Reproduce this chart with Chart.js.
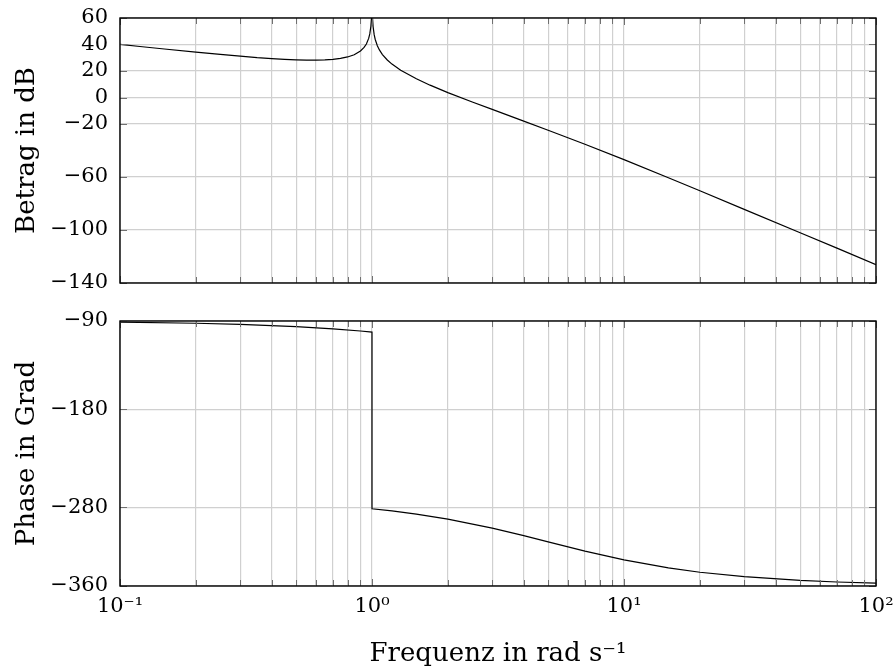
<!DOCTYPE html>
<html>
<head>
<meta charset="utf-8">
<script src="https://cdn.jsdelivr.net/npm/chart.js@4.4.1/dist/chart.umd.min.js"></script>
<style>
  html, body { margin: 0; padding: 0; background: #fff; }
  #page { position: relative; width: 895px; height: 668px; overflow: hidden; }
  .panel { position: absolute; left: 0; width: 895px; }
  #magBox { top: 0; height: 300px; }
  #phaseBox { top: 300px; height: 368px; }
</style>
</head>
<body>
<div id="page">
  <div class="panel" id="magBox"><canvas id="magChart"></canvas></div>
  <div class="panel" id="phaseBox"><canvas id="phaseChart"></canvas></div>
</div>
<script>
// Bode-Diagramm: Betrag und Phase

// Betrag (dB) über Frequenz (rad/s)
const magFreq = [0.1, 0.12, 0.15, 0.2, 0.25, 0.3, 0.35, 0.4, 0.45, 0.5, 0.55, 0.6, 0.65, 0.7, 0.75, 0.8, 0.85, 0.9, 0.93, 0.95, 0.97, 0.98, 0.99, 0.995,
                 1.0, 1.005, 1.01, 1.02, 1.03, 1.05, 1.07, 1.1, 1.15, 1.2, 1.3, 1.5, 1.7, 2, 2.5, 3, 4, 5, 7, 10, 15, 20, 30, 50, 70, 100];
const magDb   = [40.1, 38.5, 36.6, 34.2, 32.5, 31.2, 30.1, 29.4, 28.8, 28.4, 28.2, 28.2, 28.35, 28.8, 29.5, 30.6, 32.3, 35.1, 37.8, 40.4, 44.6, 48.0, 53.9, 59.8,
                 90, 59.7, 53.6, 47.4, 43.8, 39.1, 35.9, 32.4, 28.3, 25.2, 20.6, 14.1, 9.3, 3.7, -3.4, -9.0, -17.8, -24.7, -35.3, -46.9, -60.6, -70.4, -84.4, -102.1, -113.7, -126.1];

// Phase (Grad) über Frequenz, Sprung bei 1 rad/s
const phaseFreq = [0.1, 0.2, 0.3, 0.5, 0.7, 0.9, 1.0, 1.0, 1.2, 1.5, 2, 3, 4, 5, 7, 10, 15, 20, 30, 50, 70, 100];
const phaseDeg  = [-91.1, -92.3, -93.4, -95.7, -98.0, -100.2, -101.3, -281.3, -283.5, -286.7, -291.8, -301.0, -308.7, -315.0, -324.5, -333.4, -341.6, -346.0, -350.5, -354.3, -355.9, -357.1];

// Achsenbeschriftungen
const xDecades = [0.1, 1, 10, 100];
const xDecadeLabels = ['10⁻¹', '10⁰', '10¹', '10²'];
const magTicks = [60, 40, 20, 0, -20, -60, -100, -140];
const phaseTicks = [-90, -180, -280, -360];

const serif = "'DejaVu Serif', 'Liberation Serif', serif";
const gridColor = '#d0d0d0';

function toPoints(xs, ys) {
  return xs.map((x, i) => ({ x: x, y: ys[i] }));
}

function minus(v) {
  return String(v).replace('-', '\u2212');
}

// Haupt- und Nebenteilstriche pro Dekade
function logTicks(scale) {
  const ticks = [];
  for (let d = 0; d < xDecades.length; d++) {
    const base = xDecades[d];
    ticks.push({ value: base, major: true });
    if (d === xDecades.length - 1) break;
    for (let m = 2; m <= 9; m++) ticks.push({ value: +(base * m).toPrecision(3), major: false });
  }
  scale.ticks = ticks;
}

function fixedTicks(list) {
  return scale => { scale.ticks = list.map(v => ({ value: v })); };
}

// Teilstriche nach innen + Rahmen
const innerTicks = {
  id: 'innerTicks',
  afterDatasetsDraw(chart) {
    const { ctx, chartArea: a, scales: { x, y } } = chart;
    ctx.save();
    ctx.strokeStyle = '#707070';
    ctx.lineWidth = 1;
    ctx.beginPath();
    x.ticks.forEach(t => {
      const px = Math.round(x.getPixelForValue(t.value)) + 0.5;
      const len = t.major ? 7 : 6;
      ctx.moveTo(px, a.top); ctx.lineTo(px, a.top + len);
      ctx.moveTo(px, a.bottom); ctx.lineTo(px, a.bottom - len);
    });
    y.ticks.forEach(t => {
      const py = Math.round(y.getPixelForValue(t.value)) + 0.5;
      ctx.moveTo(a.left, py); ctx.lineTo(a.left + 7, py);
      ctx.moveTo(a.right, py); ctx.lineTo(a.right - 7, py);
    });
    ctx.stroke();
    ctx.strokeStyle = '#000';
    ctx.lineWidth = 1.4;
    ctx.strokeRect(a.left, a.top, a.right - a.left, a.bottom - a.top);
    ctx.restore();
  }
};

function makeChart(id, xs, ys, yMin, yMax, yTickList, yTitle, opts) {
  const bottomPanel = opts.bottomPanel;
  return new Chart(document.getElementById(id), {
    type: 'line',
    data: {
      datasets: [{
        data: toPoints(xs, ys),
        borderColor: '#000',
        borderWidth: 1.2,
        pointRadius: 0,
        tension: 0,
        fill: false
      }]
    },
    options: {
      responsive: true,
      maintainAspectRatio: false,
      animation: false,
      events: [],
      layout: { padding: { left: 0, right: 19, top: opts.top, bottom: 0 } },
      plugins: { legend: { display: false }, tooltip: { enabled: false } },
      scales: {
        x: {
          type: 'logarithmic',
          min: 0.1,
          max: 100,
          afterBuildTicks: logTicks,
          afterFit: s => { s.height = opts.xHeight; s.paddingLeft = 0; s.paddingRight = 0; },
          border: { display: false },
          grid: { color: gridColor, lineWidth: 1.2, drawTicks: false },
          ticks: {
            display: bottomPanel,
            autoSkip: false,
            maxRotation: 0,
            padding: 8,
            color: '#000',
            font: { family: serif, size: 21 },
            callback: v => {
              const i = xDecades.findIndex(d => Math.abs(d - v) < 1e-9);
              return i >= 0 ? xDecadeLabels[i] : '';
            }
          },
          title: {
            display: bottomPanel,
            text: 'Frequenz in rad s⁻¹',
            color: '#000',
            font: { family: serif, size: 26 },
            padding: { top: 0, bottom: -2 }
          }
        },
        y: {
          min: yMin,
          max: yMax,
          afterBuildTicks: fixedTicks(yTickList),
          afterFit: s => { s.width = 120; s.paddingTop = 0; s.paddingBottom = 0; },
          border: { display: false },
          grid: { color: gridColor, lineWidth: 1.2, drawTicks: false },
          ticks: {
            padding: 12,
            color: '#000',
            font: { family: serif, size: 21 },
            callback: v => minus(v)
          },
          title: {
            display: true,
            text: yTitle,
            color: '#000',
            font: { family: serif, size: 26 },
            padding: { top: 12, bottom: 0 }
          }
        }
      }
    },
    plugins: [innerTicks]
  });
}

makeChart('magChart', magFreq, magDb, -140, 60, magTicks, 'Betrag in dB',
  { top: 18, xHeight: 17, bottomPanel: false });
makeChart('phaseChart', phaseFreq, phaseDeg, -360, -90, phaseTicks, 'Phase in Grad',
  { top: 21, xHeight: 82, bottomPanel: true });
</script>
</body>
</html>
